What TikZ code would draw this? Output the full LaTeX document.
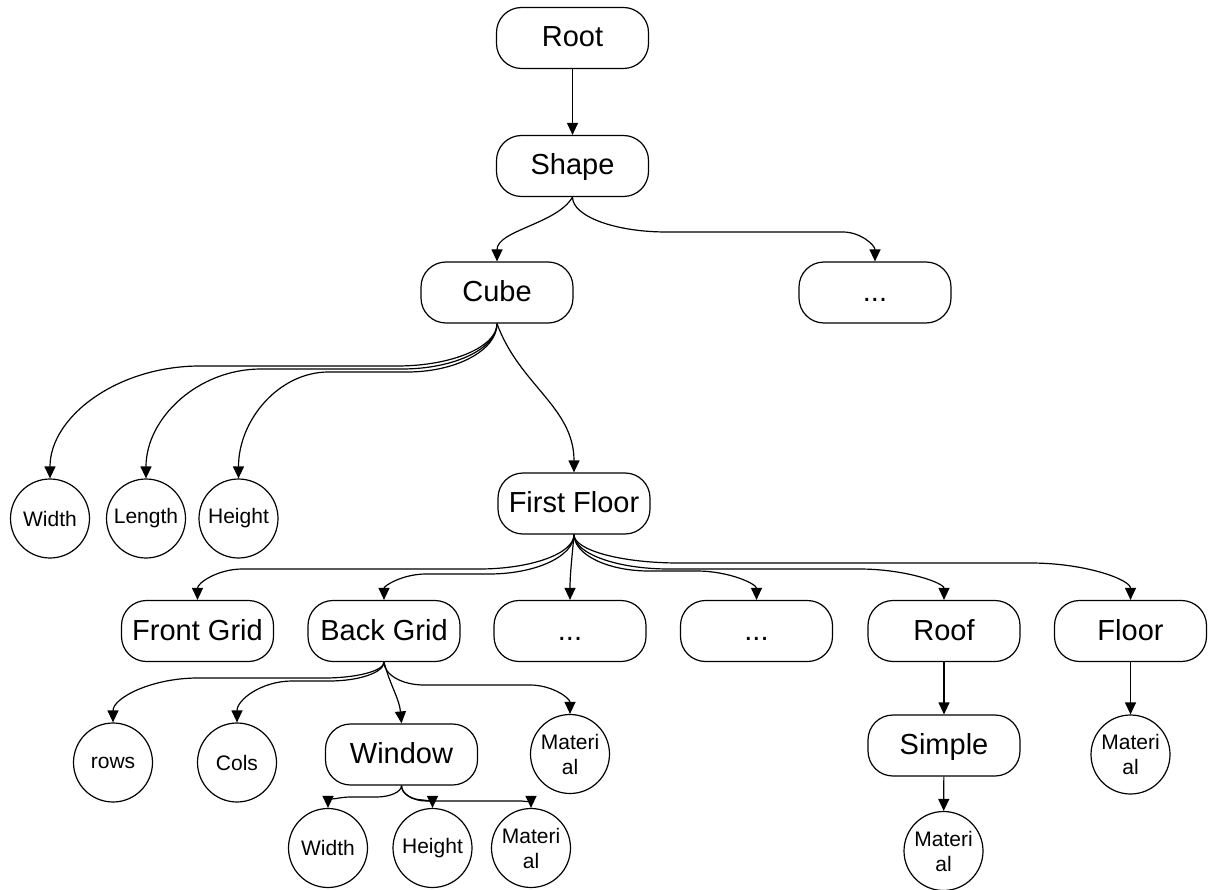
\documentclass[tikz,border=0pt]{standalone}
\usepackage{fontspec}
\setmainfont{Liberation Sans}
\usetikzlibrary{arrows.meta,calc}

\begin{document}
\begin{tikzpicture}[
  x=1pt, y=1pt,
  >={Triangle[length=12pt,width=11pt]},
  pill/.style={rectangle, draw=black, line width=1.2pt, rounded corners=25pt, minimum width=152pt, minimum height=61pt, inner sep=2pt, text height=24pt, text depth=6pt, font=\fontsize{29}{34}\selectfont},
  bubble/.style={circle, draw=black, line width=1.2pt, minimum size=79pt, inner sep=0pt, align=center, font=\fontsize{21}{25}\selectfont},
  link/.style={->, draw=black, line width=1.2pt},
  bus/.style n args={3}{to path={let \p1=(\tikztostart), \p2=(\tikztotarget) in
      .. controls (\x1,{\y1+0.55*(#1pt-(\y1))}) and ({\x1+0.45*(#2pt)},#1pt) .. ({\x1+(#2pt)},#1pt)
      -- ({\x2+(#3pt)},#1pt)
      .. controls ({\x2+0.45*(#3pt)},#1pt) and (\x2,{\y2+0.55*(#1pt-(\y2))}) .. (\tikztotarget)}}
]
  \useasboundingbox (0,0) rectangle (1209,-890);
  % upper levels
  \node[pill] (root) at (572.5,-38) {Root};
  \node[pill] (shape) at (572.5,-166) {Shape};
  \node[pill] (cube) at (497,-292.5) {Cube};
  \node[pill] (sdots) at (875,-292.5) {...};
  \node[bubble] (cwidth) at (50,-518.5) {Width};
  \node[bubble] (clength) at (146,-518.5) {Length};
  \node[bubble] (cheight) at (238.5,-518.5) {Height};
  \node[pill] (ffloor) at (574,-503.5) {First Floor};
  % parts of the first floor
  \node[pill] (fgrid) at (197.5,-631) {Front Grid};
  \node[pill] (bgrid) at (384,-631) {Back Grid};
  \node[pill] (gdotsA) at (570,-631) {...};
  \node[pill] (gdotsB) at (756.5,-631) {...};
  \node[pill] (roof) at (944,-631) {Roof};
  \node[pill] (floor) at (1130.5,-631) {Floor};
  % back grid
  \node[bubble] (rows) at (113,-762.5) {rows};
  \node[bubble] (cols) at (237,-762.5) {Cols};
  \node[pill] (window) at (401.5,-754.5) {Window};
  \node[bubble] (matgrid) at (570,-754) {Materi\\al};
  \node[bubble] (wwidth) at (328,-848) {Width};
  \node[bubble] (wheight) at (432.5,-848) {Height};
  \node[bubble] (wmat) at (531,-848) {Materi\\al};
  % roof and floor
  \node[pill] (simple) at (944,-745.5) {Simple};
  \node[bubble] (matroof) at (943.5,-851) {Materi\\al};
  \node[bubble] (matfloor) at (1130.5,-754.5) {Materi\\al};

  \draw[link] (root) -- (shape);
  \draw[link] (shape.south) to[out=-120,in=90,looseness=0.8] (cube.north);
  \draw[link] (shape.south) to[bus={-232}{94}{-32}] (sdots.north);

  \draw[link] (cube.south) to[bus={-366}{-100}{150}] (cwidth.north);
  \draw[link] (cube.south) to[bus={-369}{-95}{115}] (clength.north);
  \draw[link] (cube.south) to[bus={-372}{-90}{90}] (cheight.north);
  \draw[link] (cube.south) to[out=-70,in=90] (ffloor.north);

  \draw[link] (ffloor.south) to[bus={-569}{-95}{45}] (fgrid.north);
  \draw[link] (ffloor.south) to[bus={-574}{-85}{42}] (bgrid.north);
  \draw[link] (ffloor.south) to[out=-95,in=90] (gdotsA.north);
  \draw[link] (ffloor.south) to[bus={-571}{75}{-60}] (gdotsB.north);
  \draw[link] (ffloor.south) to[bus={-569}{95}{-85}] (roof.north);
  \draw[link] (ffloor.south) to[bus={-563}{105}{-100}] (floor.north);

  \draw[link] (bgrid.south) to[bus={-678}{-60}{85}] (rows.north);
  \draw[link] (bgrid.south) to[bus={-681}{-55}{55}] (cols.north);
  \draw[link] (bgrid.south) to[out=-75,in=95] (window.north);
  \draw[link] (bgrid.south) to[bus={-685}{40}{-40}] (matgrid.north);

  \draw[link] (window.south) to[bus={-797}{-25}{22}] (wwidth.north);
  \draw[link] (window.south) to[bus={-800}{22}{-10}] (wheight.north);
  \draw[link] (window.south) to[bus={-801}{25}{-10}] (wmat.north);

  \draw[link] (roof) -- (simple);
  \draw[link] (simple) -- (matroof);
  \draw[link] (floor) -- (matfloor);
\end{tikzpicture}
\end{document}
